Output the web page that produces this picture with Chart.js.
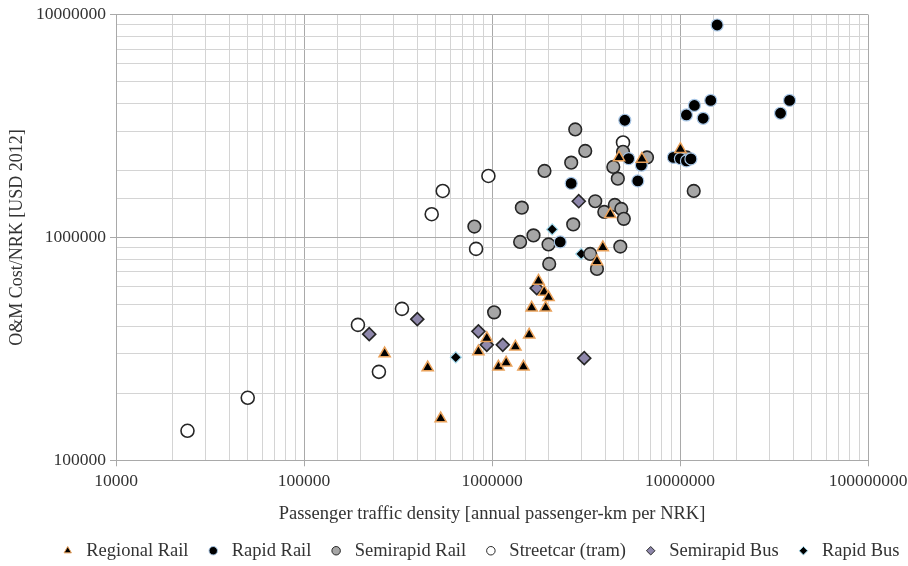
<!DOCTYPE html>
<html>
<head>
<meta charset="utf-8">
<script src="https://cdn.jsdelivr.net/npm/chart.js@4.4.1/dist/chart.umd.min.js"></script>
<style>
  html, body { margin: 0; padding: 0; background: #ffffff; }
  #wrap { width: 908px; height: 566px; position: relative; }
</style>
</head>
<body>
<div id="wrap"><canvas id="c" width="908" height="566"></canvas></div>
<script>
// ---- Data ----
const seriesNames = ["Regional Rail", "Rapid Rail", "Semirapid Rail", "Streetcar (tram)", "Semirapid Bus", "Rapid Bus"];

const regionalRailX = [268500, 455000, 533500, 846500, 938300, 1082000, 1189000, 1332000, 1470000, 1577000, 1626000, 1767000, 1895000, 1930000, 1998000, 3616000, 3884000, 4259000, 4740000, 6270000, 10050000];
const regionalRailY = [301200, 260700, 153900, 307500, 353200, 262600, 273600, 322800, 262600, 365400, 483000, 638100, 569600, 483000, 538300, 780500, 902000, 1270000, 2280000, 2250000, 2486000];

const rapidRailX = [2306000, 2638000, 5087000, 5330000, 5965000, 6229000, 9222000, 10050000, 10820000, 11430000, 10820000, 11930000, 13280000, 14570000, 15760000, 34260000, 38270000];
const rapidRailY = [954500, 1747000, 3354000, 2257000, 1792000, 2108000, 2285000, 2257000, 2203000, 2250000, 3542000, 3908000, 3423000, 4116000, 8973000, 3605000, 4116000];

const semirapidRailX = [805700, 1026000, 1411000, 1441000, 1662000, 1902000, 1998000, 2015000, 2638000, 2704000, 2772000, 3133000, 3331000, 3542000, 3616000, 3956000, 4418000, 4669000, 4500000, 4814000, 4873000, 4976000, 5025000, 6676000, 10820000, 11830000];
const semirapidRailY = [1118000, 461000, 954500, 1360000, 1021000, 1987000, 930200, 760500, 2165000, 1144000, 3050000, 2443000, 843300, 1453000, 722400, 1301000, 2070000, 1835000, 1399000, 909300, 1342000, 2420000, 1211000, 2285000, 2285000, 1616000];

const streetcarX = [24000, 50200, 193600, 250300, 331900, 477800, 546900, 822700, 957000, 4976000];
const streetcarY = [135600, 190700, 405200, 249400, 478000, 1271000, 1616000, 888000, 1887000, 2667000];

const semirapidBusX = [222300, 400600, 846500, 938300, 1141000, 1729000, 2893000, 3095000];
const semirapidBusY = [368000, 429800, 378800, 329600, 329600, 591800, 1453000, 287200];

const rapidBusX = [641600, 2090000, 2983000];
const rapidBusY = [289600, 1086000, 843300];

const xTickLabels = ["10000", "100000", "1000000", "10000000", "100000000"];
const yTickLabels = ["100000", "1000000", "10000000"];

const xTitle = "Passenger traffic density [annual passenger-km per NRK]";
const yTitle = "O&M Cost/NRK [USD 2012]";

// ---- Build ----
function pts(xs, ys) { return xs.map((x, i) => ({ x: x, y: ys[i] })); }

const FONT = "'Liberation Serif', 'Times New Roman', serif";
const TEXT = "#333333";

const datasets = [
  { label: seriesNames[0], data: pts(regionalRailX, regionalRailY), pointStyle: 'triangle', pointRadius: 6.5, backgroundColor: '#000000', borderColor: '#e9a15a', borderWidth: 1.5 },
  { label: seriesNames[1], data: pts(rapidRailX, rapidRailY), pointStyle: 'circle', pointRadius: 6, backgroundColor: '#000000', borderColor: '#a9c7e6', borderWidth: 1.2 },
  { label: seriesNames[2], data: pts(semirapidRailX, semirapidRailY), pointStyle: 'circle', pointRadius: 6.3, backgroundColor: '#a6a6a6', borderColor: '#262626', borderWidth: 1.6 },
  { label: seriesNames[3], data: pts(streetcarX, streetcarY), pointStyle: 'circle', pointRadius: 6.5, backgroundColor: '#ffffff', borderColor: '#262626', borderWidth: 1.6 },
  { label: seriesNames[4], data: pts(semirapidBusX, semirapidBusY), pointStyle: 'rectRot', pointRadius: 6.5, backgroundColor: '#8e87ab', borderColor: '#262626', borderWidth: 1.6 },
  { label: seriesNames[5], data: pts(rapidBusX, rapidBusY), pointStyle: 'rectRot', pointRadius: 5.5, backgroundColor: '#000000', borderColor: '#9fd6ea', borderWidth: 1.2 }
];
datasets.forEach(d => { d.pointHoverRadius = d.pointRadius; d.showLine = false; });

function isPow10(v) { const l = Math.log10(v); return Math.abs(l - Math.round(l)) < 1e-9; }

// nudge the legend block to sit where the reference puts it
const legendNudge = {
  id: 'legendNudge',
  afterLayout(chart) {
    const lg = chart.legend;
    if (lg) { lg.left += 22; lg.right += 22; lg.top += 1; lg.bottom += 1; }
  }
};

new Chart(document.getElementById('c'), {
  type: 'scatter',
  data: { datasets: datasets },
  plugins: [legendNudge],
  options: {
    responsive: false,
    animation: false,
    devicePixelRatio: 1,
    layout: { padding: { left: 6, right: 0, top: 3, bottom: -3 } },
    plugins: {
      tooltip: { enabled: false },
      legend: {
        position: 'bottom',
        labels: {
          usePointStyle: true,
          boxWidth: 18.5, boxHeight: 6,
          padding: 15.5,
          color: TEXT,
          font: { family: FONT, size: 18.5 },
          generateLabels: function(chart) {
            return chart.data.datasets.map((d, i) => ({
              text: d.label,
              fillStyle: d.backgroundColor,
              strokeStyle: d.borderColor,
              lineWidth: 1,
              pointStyle: d.pointStyle,
              hidden: false,
              datasetIndex: i,
              fontColor: TEXT
            }));
          }
        }
      }
    },
    scales: {
      x: {
        type: 'logarithmic',
        min: 10000, max: 100000000,
        afterFit: function(scale) { scale.paddingRight = 40; },
        ticks: {
          autoSkip: false, maxRotation: 0, minRotation: 0,
          color: TEXT, font: { family: FONT, size: 17.5 }, padding: 5,
          callback: function(v) { return isPow10(v) ? xTickLabels[Math.round(Math.log10(v)) - 4] : ''; }
        },
        grid: {
          color: ctx => (ctx.tick && isPow10(ctx.tick.value)) ? '#a9a9a9' : '#d4d4d4',
          tickColor: ctx => (ctx.tick && isPow10(ctx.tick.value)) ? '#a9a9a9' : 'rgba(0,0,0,0)',
          lineWidth: 1, tickLength: 6
        },
        border: { color: '#a9a9a9' },
        title: { display: true, text: xTitle, color: TEXT, font: { family: FONT, size: 18.5 }, padding: { top: 5.5, bottom: 0 } }
      },
      y: {
        type: 'logarithmic',
        min: 100000, max: 10000000,
        afterFit: function(scale) { scale.width = 110; },
        ticks: {
          autoSkip: false,
          color: TEXT, font: { family: FONT, size: 17.5 }, padding: 4,
          callback: function(v) { return isPow10(v) ? yTickLabels[Math.round(Math.log10(v)) - 5] : ''; }
        },
        grid: {
          color: ctx => (ctx.tick && isPow10(ctx.tick.value)) ? '#a9a9a9' : '#d4d4d4',
          tickColor: ctx => (ctx.tick && isPow10(ctx.tick.value)) ? '#a9a9a9' : 'rgba(0,0,0,0)',
          lineWidth: 1, tickLength: 6
        },
        border: { color: '#a9a9a9' },
        title: { display: true, text: yTitle, color: TEXT, font: { family: FONT, size: 18 }, padding: { top: 0, bottom: 6 } }
      }
    }
  }
});
</script>
</body>
</html>
